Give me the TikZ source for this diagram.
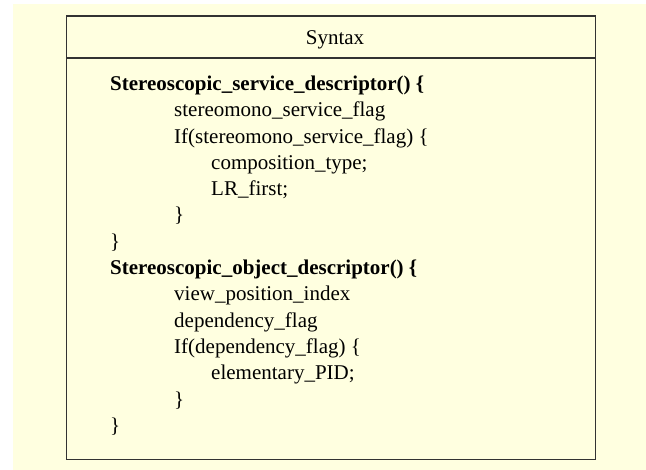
\documentclass[tikz,border=0pt]{standalone}
\usepackage{fontspec}
\setmainfont{Liberation Serif}
\definecolor{bgcream}{HTML}{FFFFE0}
\definecolor{boxgray}{HTML}{333333}
\begin{document}
\begin{tikzpicture}[x=1pt,y=-1pt,
  codeline/.style={anchor=base west, inner sep=0pt, font=\fontsize{21}{25}\selectfont},
  boldline/.style={anchor=base west, inner sep=0pt, font=\fontsize{21}{25}\selectfont\bfseries},
  frame/.style={draw=boxgray, line width=1.5pt}]
\useasboundingbox (0,0) rectangle (646,470);
\fill[bgcream] (13,4) rectangle (646,470);
\draw[frame] (66.7,16) rectangle (595.3,459.3);
\draw[frame] (66.7,58) -- (595.3,58);
\node[anchor=base, inner sep=0pt, font=\fontsize{21}{25}\selectfont] (title) at (335,45) {Syntax};
\node[boldline] (l1) at (110,90.7) {Stereoscopic\_service\_descriptor() \{};
\node[codeline] (l2) at (174,117) {stereomono\_service\_flag};
\node[codeline] (l3) at (174,143.3) {If(stereomono\_service\_flag) \{};
\node[codeline] (l4) at (211,169.6) {composition\_type;};
\node[codeline] (l5) at (211,196) {LR\_first;};
\node[codeline] (l6) at (174,222) {\}};
\node[codeline] (l7) at (110,248.5) {\}};
\node[boldline] (l8) at (110,275) {Stereoscopic\_object\_descriptor() \{};
\node[codeline] (l9) at (174,301) {view\_position\_index};
\node[codeline] (l10) at (174,327.5) {dependency\_flag};
\node[codeline] (l11) at (174,354) {If(dependency\_flag) \{};
\node[codeline] (l12) at (211,380) {elementary\_PID;};
\node[codeline] (l13) at (174,406.5) {\}};
\node[codeline] (l14) at (110,433) {\}};
\end{tikzpicture}
\end{document}
